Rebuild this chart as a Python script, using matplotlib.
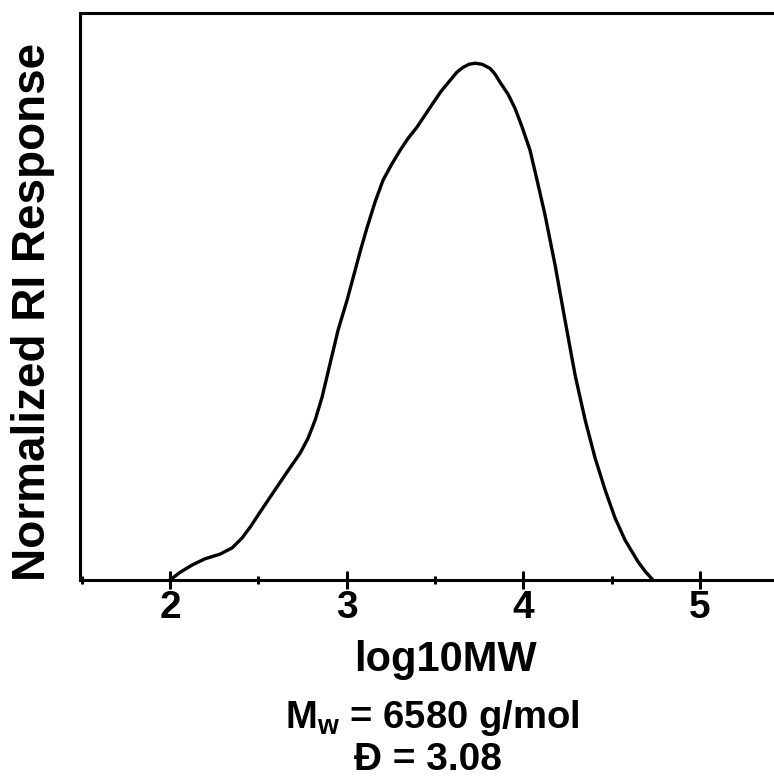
import matplotlib
matplotlib.use("Agg")
import matplotlib.pyplot as plt
from matplotlib.ticker import FixedLocator

plt.rcParams['font.family'] = ['Liberation Sans', 'DejaVu Sans']
plt.rcParams['font.weight'] = 'bold'
plt.rcParams['mathtext.fontset'] = 'custom'
plt.rcParams['mathtext.rm'] = 'Liberation Sans:bold'
plt.rcParams['mathtext.it'] = 'Liberation Sans:bold'
plt.rcParams['mathtext.bf'] = 'Liberation Sans:bold'

# Data
log_mw = [2.000, 2.057, 2.125, 2.198, 2.283, 2.351, 2.407, 2.453, 2.509, 2.566,
          2.651, 2.736, 2.781, 2.821, 2.860, 2.906, 2.951, 3.002, 3.047, 3.081,
          3.115, 3.160, 3.205, 3.251, 3.302, 3.347, 3.398, 3.443, 3.488, 3.534,
          3.585, 3.624, 3.658, 3.692, 3.726, 3.766, 3.811, 3.839, 3.868, 3.913,
          3.952, 3.992, 4.037, 4.077, 4.122, 4.179, 4.235, 4.292, 4.349, 4.405,
          4.462, 4.518, 4.575, 4.649, 4.688, 4.733]
ri_resp = [0.000, 0.015, 0.029, 0.041, 0.050, 0.062, 0.081, 0.102, 0.131, 0.160,
           0.203, 0.245, 0.274, 0.309, 0.353, 0.419, 0.483, 0.541, 0.598, 0.641,
           0.681, 0.730, 0.772, 0.801, 0.830, 0.853, 0.875, 0.898, 0.921, 0.944,
           0.965, 0.981, 0.990, 0.996, 0.998, 0.996, 0.988, 0.977, 0.961, 0.938,
           0.911, 0.875, 0.830, 0.772, 0.705, 0.608, 0.502, 0.396, 0.309, 0.236,
           0.174, 0.120, 0.077, 0.035, 0.017, 0.000]
major_ticks = [2, 3, 4, 5]
minor_ticks = [1.5, 2.5, 3.5, 4.5]
tick_labels = ['2', '3', '4', '5']

W, H = 774, 777
fig = plt.figure(figsize=(W / 100, H / 100), dpi=100)
ax_left, ax_right_px, ax_top, ax_bottom = 80, 788.5, 13, 580
ax = fig.add_axes([ax_left / W, 1 - ax_bottom / H,
                   (ax_right_px - ax_left) / W, (ax_bottom - ax_top) / H])

ax.plot(log_mw, ri_resp, color='black', lw=2.4, solid_capstyle='round',
        solid_joinstyle='round')

ax.set_xlim(1.49, 5.5)
ax.set_ylim(0, 1.095)

ax.xaxis.set_major_locator(FixedLocator(major_ticks))
ax.set_xticklabels(tick_labels)
ax.xaxis.set_minor_locator(FixedLocator(minor_ticks))
ax.tick_params(axis='x', which='major', direction='inout', length=13, width=2.2,
               labelsize=28, pad=1)
ax.tick_params(axis='x', which='minor', direction='inout', length=6, width=2.2)
ax.set_yticks([])
for lbl in ax.get_xticklabels():
    lbl.set_fontweight('bold')
for sp in ax.spines.values():
    sp.set_linewidth(2.2)

fig.text(33 / W, 1 - 312 / H, 'Normalized RI Response', rotation=90,
         ha='center', va='center', fontsize=33, fontweight='bold')
fig.text(445 / W, 1 - 660 / H, 'log10MW', ha='center', va='center',
         fontsize=30, fontweight='bold')
fig.text(432 / W, 1 - 718 / H, r'M$_{\mathrm{w}}$ = 6580 g/mol', ha='center',
         va='center', fontsize=27.5, fontweight='bold')
fig.text(428 / W, 1 - 760 / H, 'Đ = 3.08', ha='center', va='center',
         fontsize=28, fontweight='bold')

fig.savefig('out.png', dpi=100)
